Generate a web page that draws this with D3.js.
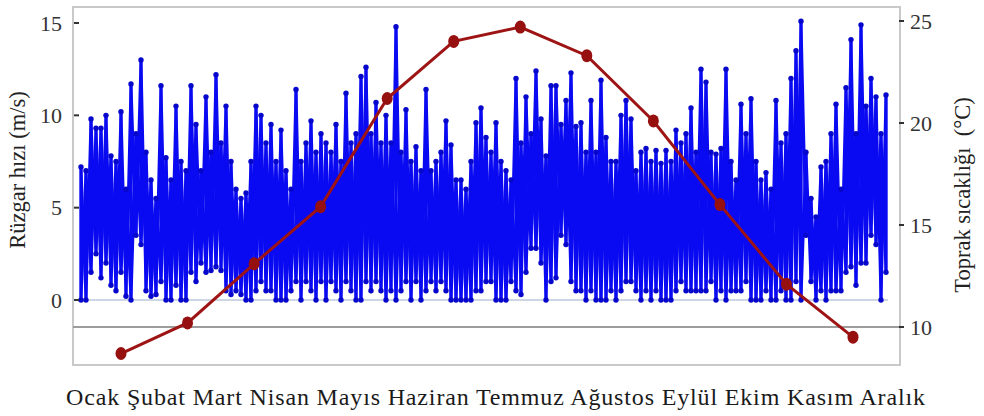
<!DOCTYPE html>
<html>
<head>
<meta charset="utf-8">
<script src="https://cdn.jsdelivr.net/npm/d3@7/dist/d3.min.js"></script>
<style>
  html, body { margin: 0; padding: 0; background: #ffffff; }
  svg { display: block; }
  text { font-family: "Liberation Serif", "Times New Roman", serif; }
</style>
</head>
<body>
<svg id="chart" width="984" height="416"></svg>
<script>
// Months of the year (x-axis labels)
const months = ["Ocak", "Şubat", "Mart", "Nisan", "Mayıs", "Haziran",
                "Temmuz", "Ağustos", "Eylül", "Ekim", "Kasım", "Aralık"];

// Monthly mean soil temperature (°C), right axis
const soilTemp = [8.7, 10.2, 13.1, 15.9, 21.2, 24.0, 24.7, 23.3, 20.1, 16.0, 12.1, 9.5];

// Wind speed (m/s) through the year: upper and lower extent of each time step
const windHigh = [
  7.2, 7.0, 9.8, 9.3, 9.3, 10.0, 7.8, 7.5, 10.2, 6.0,
  11.7, 9.0, 13.0, 8.0, 6.5, 5.5, 11.6, 7.7, 6.5, 10.5,
  7.5, 7.0, 11.6, 9.5, 7.0, 11.0, 8.0, 12.2, 8.5, 10.5,
  7.5, 6.0, 5.5, 5.8, 7.5, 10.5, 10.0, 8.5, 9.5, 7.5,
  9.2, 7.0, 6.0, 11.4, 7.5, 8.5, 9.7, 8.0, 9.0, 8.5,
  8.0, 9.5, 7.5, 11.2, 8.5, 9.0, 12.1, 12.6, 9.0, 10.7,
  8.5, 10.0, 8.5, 14.8, 8.0, 10.3, 7.5, 8.3, 7.0, 11.4,
  7.0, 7.5, 8.0, 9.7, 8.4, 6.5, 6.5, 6.0, 7.5, 9.6,
  10.4, 8.8, 8.0, 9.6, 7.5, 7.0, 6.5, 12.0, 8.5, 11.0,
  9.0, 12.4, 9.8, 7.8, 11.6, 11.6, 9.5, 10.8, 12.3, 9.4,
  9.6, 8.0, 10.8, 8.0, 11.9, 8.8, 7.5, 7.5, 10.0, 10.8,
  9.8, 7.0, 8.0, 8.2, 7.5, 8.1, 7.4, 8.1, 7.5, 9.2,
  8.5, 9.0, 10.4, 8.0, 12.5, 11.8, 8.0, 7.9, 8.2, 12.5,
  7.5, 6.5, 10.6, 9.0, 10.9, 7.5, 6.5, 6.9, 6.0, 10.8,
  8.5, 9.0, 12.0, 13.5, 15.1, 8.0, 5.5, 4.5, 7.2, 7.5,
  9.0, 10.6, 6.0, 11.5, 14.1, 9.0, 14.9, 10.5, 12.0, 11.0,
  9.0, 11.1
];
const windLow = [
  0.0, 0.0, 1.5, 2.5, 1.2, 2.0, 0.8, 0.5, 1.5, 0.2,
  0.0, 3.5, 3.0, 0.5, 0.2, 0.3, 1.0, 0.0, 0.0, 0.8,
  0.0, 0.0, 1.5, 1.0, 2.0, 1.5, 1.6, 1.8, 1.6, 0.5,
  0.3, 0.5, 0.3, 0.0, 0.0, 0.5, 1.0, 0.5, 0.5, 0.0,
  0.0, 0.0, 0.5, 1.0, 0.0, 1.0, 0.5, 0.0, 1.0, 0.0,
  1.0, 0.5, 0.0, 1.0, 0.5, 0.0, 0.0, 1.0, 0.5, 1.0,
  0.5, 0.0, 0.5, 0.0, 0.5, 1.0, 0.0, 1.0, 0.0, 0.5,
  1.0, 0.5, 1.0, 0.5, 0.0, 0.0, 0.0, 0.0, 0.0, 0.5,
  0.5, 1.0, 1.0, 0.0, 0.0, 0.0, 1.0, 0.5, 0.3, 1.5,
  2.8, 2.8, 2.0, 0.0, 1.0, 1.2, 3.5, 3.0, 1.0, 0.5,
  0.5, 0.0, 0.5, 0.0, 0.0, 0.0, 0.5, 0.0, 0.5, 1.0,
  1.0, 0.5, 0.0, 0.5, 0.0, 0.5, 0.0, 0.0, 0.0, 0.5,
  1.0, 0.5, 0.5, 0.5, 0.5, 0.5, 1.0, 0.0, 0.5, 0.0,
  0.5, 0.5, 0.5, 1.0, 0.0, 0.0, 0.0, 0.5, 0.0, 0.0,
  0.5, 0.0, 0.0, 1.0, 0.0, 3.5, 1.0, 0.0, 0.5, 0.0,
  0.5, 0.5, 0.5, 1.5, 1.8, 0.8, 2.0, 2.0, 3.5, 3.0,
  0.0, 1.5
];

// Axis ticks
const windTicks = [0, 5, 10, 15];
const tempTicks = [10, 15, 20, 25];

const svg = d3.select("#chart");

// Plot frame
const frame = { left: 73, top: 7, right: 900, bottom: 365 };

// Scales
const yWind = d3.scaleLinear().domain([0, 15]).range([300, 23]);
const yTemp = d3.scaleLinear().domain([10, 25]).range([327, 21]);
const xWind = d3.scaleLinear().domain([0, windHigh.length - 1]).range([81, 886]);
const xMonth = d3.scalePoint().domain(months).range([121, 853]);

// Frame
svg.append("rect")
  .attr("x", frame.left).attr("y", frame.top)
  .attr("width", frame.right - frame.left).attr("height", frame.bottom - frame.top)
  .attr("fill", "#ffffff").attr("stroke", "#c9c9c9").attr("stroke-width", 2);

// Reference lines: zero wind speed and the 10 °C level
svg.append("line")
  .attr("x1", frame.left).attr("x2", frame.right - 12)
  .attr("y1", yWind(0)).attr("y2", yWind(0))
  .attr("stroke", "#bcc8dc").attr("stroke-width", 1.5);
svg.append("line")
  .attr("x1", frame.left).attr("x2", frame.right)
  .attr("y1", yTemp(10)).attr("y2", yTemp(10))
  .attr("stroke", "#9c9c9c").attr("stroke-width", 2);

// Wind speed: two interleaved jagged traces through the low/high extent of
// every step (low->high and high->low), with markers at each extreme
const idx = d3.range(windHigh.length);
const traceUp = [], traceDown = [];
idx.forEach(i => {
  traceUp.push([i, windLow[i]], [i, windHigh[i]]);
  traceDown.push([i, windHigh[i]], [i, windLow[i]]);
});
const windLine = d3.line().x(d => xWind(d[0])).y(d => yWind(d[1]));
svg.append("g")
  .selectAll("path")
  .data([traceUp, traceDown])
  .join("path")
  .attr("d", windLine)
  .attr("fill", "none")
  .attr("stroke", "#0a0af2")
  .attr("stroke-width", 2.9)
  .attr("stroke-linejoin", "round");
svg.append("g")
  .selectAll("circle")
  .data(traceUp)
  .join("circle")
  .attr("cx", d => xWind(d[0]))
  .attr("cy", d => yWind(d[1]))
  .attr("r", 2.7)
  .attr("fill", "#0707cc");

// Soil temperature line
svg.append("path")
  .datum(soilTemp)
  .attr("d", d3.line().x((d, i) => xMonth(months[i])).y(d => yTemp(d)))
  .attr("fill", "none")
  .attr("stroke", "#9e1414")
  .attr("stroke-width", 3);
svg.append("g")
  .selectAll("ellipse")
  .data(soilTemp)
  .join("ellipse")
  .attr("cx", (d, i) => xMonth(months[i]))
  .attr("cy", d => yTemp(d))
  .attr("rx", 5.5).attr("ry", 6.5)
  .attr("fill", "#961010");

// Left axis (wind speed)
const leftAxis = svg.append("g");
leftAxis.selectAll("line")
  .data(windTicks)
  .join("line")
  .attr("x1", frame.left + 1).attr("x2", frame.left + 6)
  .attr("y1", d => yWind(d)).attr("y2", d => yWind(d))
  .attr("stroke", "#333").attr("stroke-width", 2);
leftAxis.selectAll("text")
  .data(windTicks)
  .join("text")
  .attr("x", 62).attr("y", d => yWind(d))
  .attr("dy", "0.35em")
  .attr("text-anchor", "end")
  .attr("font-size", 22)
  .attr("fill", "#333")
  .text(d => d);

// Right axis (soil temperature)
const rightAxis = svg.append("g");
rightAxis.selectAll("line")
  .data(tempTicks)
  .join("line")
  .attr("x1", frame.right - 1).attr("x2", frame.right + 4)
  .attr("y1", d => yTemp(d)).attr("y2", d => yTemp(d))
  .attr("stroke", "#333").attr("stroke-width", 2);
rightAxis.selectAll("text")
  .data(tempTicks)
  .join("text")
  .attr("x", 910).attr("y", d => yTemp(d))
  .attr("dy", "0.35em")
  .attr("text-anchor", "start")
  .attr("font-size", 22)
  .attr("fill", "#333")
  .text(d => d);

// Axis titles
svg.append("text")
  .attr("transform", "translate(25,170) rotate(-90)")
  .attr("text-anchor", "middle")
  .attr("font-size", 22.5)
  .attr("fill", "#222")
  .text("Rüzgar hızı (m/s)");
svg.append("text")
  .attr("transform", "translate(970,195) rotate(-90)")
  .attr("text-anchor", "middle")
  .attr("font-size", 22.5)
  .attr("fill", "#222")
  .style("white-space", "pre")
  .text("Toprak sıcaklığı  (°C)");

// Month labels along the bottom
svg.append("text")
  .attr("x", 66).attr("y", 405)
  .attr("font-size", 24)
  .attr("fill", "#1a1a1a")
  .attr("textLength", 859)
  .attr("lengthAdjust", "spacing")
  .style("white-space", "pre")
  .text(months.join(" "));
</script>
</body>
</html>
